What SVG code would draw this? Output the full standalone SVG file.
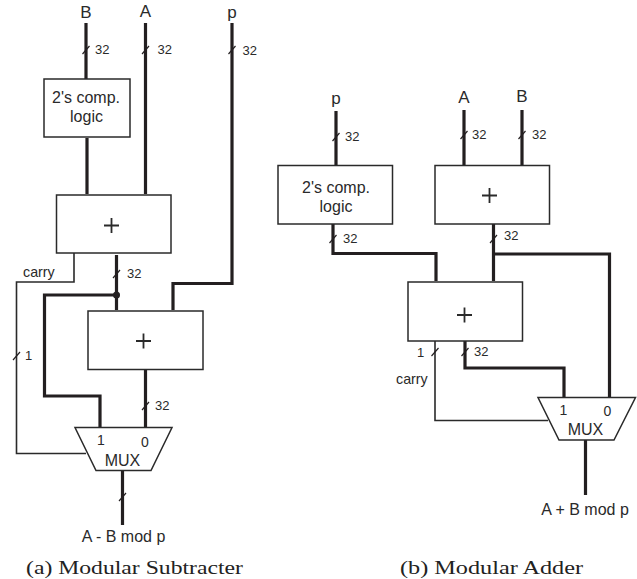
<svg xmlns="http://www.w3.org/2000/svg" width="637" height="579" viewBox="0 0 637 579">
<style>
text{font-family:"Liberation Sans",Arial,sans-serif;fill:#2a2a2a;font-size:16px;text-anchor:middle}
.s{font-size:13px;text-anchor:start}
.k{font-size:14.300px;text-anchor:start}
.m{font-size:14px}
.l{font-size:17px}
.c{font-family:"Liberation Serif","Times New Roman",serif;font-size:19px;text-anchor:start;fill:#222}
.b{fill:#fff;stroke:#2a2a2a;stroke-width:1.5}
.t{fill:none;stroke:#231f20;stroke-width:3.2}
.w{fill:none;stroke:#2a2a2a;stroke-width:1.6}
.p{fill:none;stroke:#2a2a2a;stroke-width:1.8}
.h{fill:none;stroke:#231f20;stroke-width:1.2}
</style>
<defs><path id="sl" class="h" d="M-3.500 4L3.500 -4"/></defs>
<g id="connectors">
<path class="t" d="M86 23V79M87 138V194M145.500 23V194M232 23V283.500H173V310M116.500 255V310M116.500 295H44.500V396H100V427M145.500 370V427M122.500 470V525"/>
<path class="w" d="M74 253V282H16.500V453.500H86"/>
<use href="#sl" x="86" y="50"/><use href="#sl" x="145.500" y="50"/><use href="#sl" x="232" y="50"/><use href="#sl" x="116.500" y="274"/><use href="#sl" x="16.500" y="356"/><use href="#sl" x="145.500" y="406"/><use href="#sl" x="122.500" y="497"/>
<circle cx="116.500" cy="295" r="3.500" fill="#231f20"/>
<path class="t" d="M336 111V165M464 110V165M522 110V165M333 224V253.500H436V281M493.500 224V281M493.500 254H609.500V397M465 341V368H564V397M585.500 440V495"/>
<path class="w" d="M435 341V420.500H548"/>
<use href="#sl" x="336" y="137"/><use href="#sl" x="464" y="135"/><use href="#sl" x="522" y="135"/><use href="#sl" x="333" y="239"/><use href="#sl" x="493.500" y="239"/><use href="#sl" x="435" y="352"/><use href="#sl" x="465" y="352"/>
</g>
<g id="left-comp"><rect class="b" x="44" y="79" width="86" height="58"/><text x="86" y="103">2's comp.</text><text x="86.500" y="122">logic</text></g>
<g id="left-add1"><rect class="b" x="56.500" y="195" width="114.500" height="58"/><path class="p" d="M104 225.500H119M111.500 218V233"/></g>
<g id="left-add2"><rect class="b" x="88" y="311" width="115" height="58.500"/><path class="p" d="M136 341H151M143.500 333.500V348.500"/></g>
<g id="left-mux"><path class="b" d="M75 427.500H172L151 470.500H96Z"/><text class="m" x="101" y="445">1</text><text class="m" x="145" y="446.500">0</text><text x="122.500" y="465.500">MUX</text></g>
<g id="right-comp"><rect class="b" x="278" y="165.500" width="114.500" height="58.500"/><text x="336" y="193">2's comp.</text><text x="336" y="211.500">logic</text></g>
<g id="right-add1"><rect class="b" x="435" y="165.500" width="114.500" height="58.500"/><path class="p" d="M482 195.500H497M489.500 188V203"/></g>
<g id="right-add2"><rect class="b" x="408" y="282" width="114.500" height="59"/><path class="p" d="M457 315H472M464.500 307.500V322.500"/></g>
<g id="right-mux"><path class="b" d="M538 397.500H635.500L614 440H559Z"/><text class="m" x="563.500" y="415">1</text><text class="m" x="607.500" y="416">0</text><text x="585.500" y="435">MUX</text></g>
<g id="labels">
<text class="l" x="86" y="18">B</text><text class="l" x="145.500" y="17">A</text><text class="l" x="232" y="18">p</text>
<text class="s" x="95" y="54">32</text><text class="s" x="157.500" y="54">32</text><text class="s" x="242.500" y="55">32</text>
<text class="s" x="127" y="278">32</text><text class="s" x="155" y="410">32</text><text class="s" x="25" y="360">1</text>
<text class="k" x="23" y="276.500">carry</text>
<text x="123.500" y="542">A - B mod p</text>
<text class="l" x="336" y="104">p</text><text class="l" x="464" y="103">A</text><text class="l" x="522" y="101.500">B</text>
<text class="s" x="345" y="141">32</text><text class="s" x="472" y="139">32</text><text class="s" x="532" y="139">32</text>
<text class="s" x="343" y="243">32</text><text class="s" x="504" y="240">32</text>
<text class="s" x="417" y="356.500">1</text><text class="s" x="474" y="356">32</text><text class="k" x="396" y="384">carry</text>
<text x="585" y="515">A + B mod p</text>
<text class="c" x="26" y="574" textLength="217" lengthAdjust="spacingAndGlyphs">(a) Modular Subtracter</text>
<text class="c" x="400" y="574" textLength="183" lengthAdjust="spacingAndGlyphs">(b) Modular Adder</text>
</g>
</svg>
